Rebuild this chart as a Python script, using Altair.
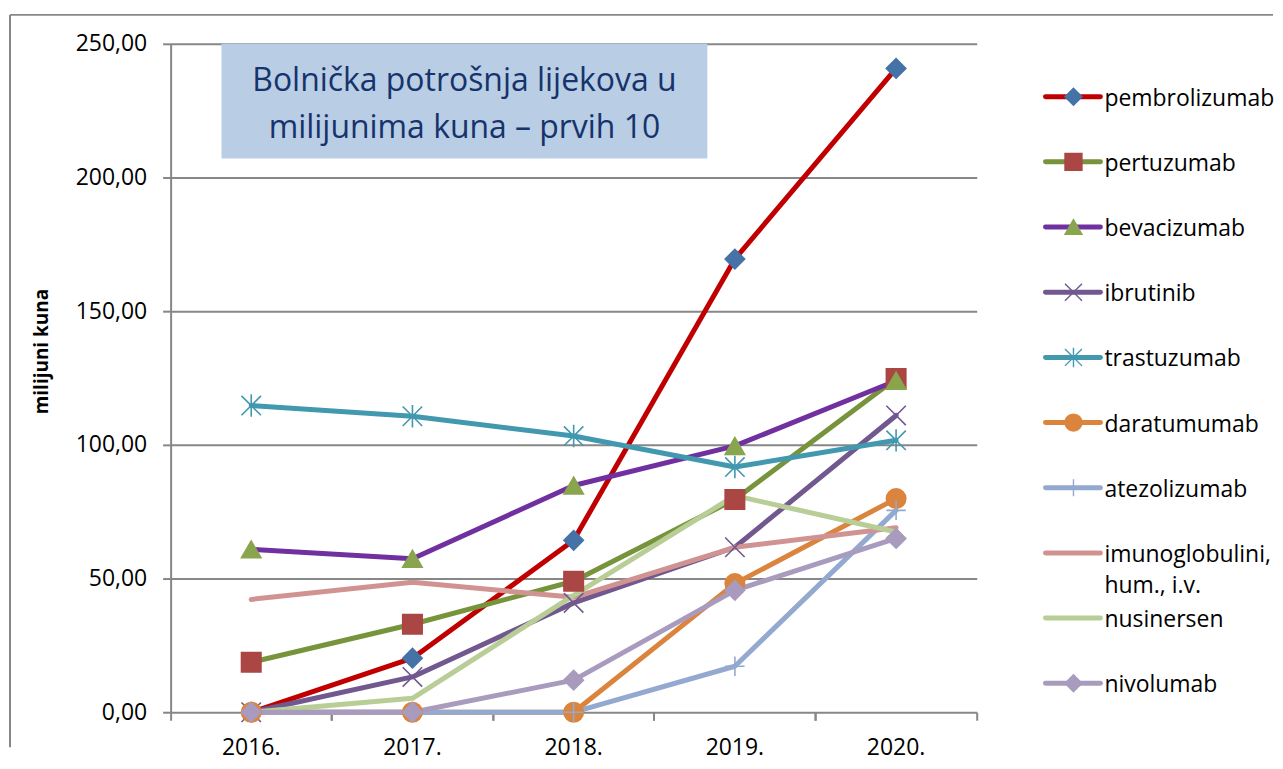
import altair as alt
import pandas as pd

# ---------------- data ----------------
years = ["2016.", "2017.", "2018.", "2019.", "2020."]

pembrolizumab = [0.0, 20.2, 64.3, 169.5, 240.8]
pertuzumab = [18.7, 32.9, 49.0, 79.6, 124.8]
bevacizumab = [60.9, 57.4, 84.8, 99.6, 124.0]
ibrutinib = [0.0, 13.2, 40.9, 61.7, 111.0]
trastuzumab = [114.7, 110.7, 103.3, 91.7, 101.7]
daratumumab = [0.0, 0.0, 0.0, 48.1, 79.9]
atezolizumab = [0.0, 0.0, 0.0, 17.2, 75.5]
imunoglobulini = [42.2, 48.6, 43.0, 61.7, 69.0]
nusinersen = [0.0, 5.2, 43.7, 81.0, 67.4]
nivolumab = [0.0, 0.0, 12.0, 45.6, 65.0]

series_names = ["pembrolizumab", "pertuzumab", "bevacizumab", "ibrutinib", "trastuzumab",
                "daratumumab", "atezolizumab", "imunoglobulini, hum., i.v.", "nusinersen", "nivolumab"]
series_values = [pembrolizumab, pertuzumab, bevacizumab, ibrutinib, trastuzumab,
                 daratumumab, atezolizumab, imunoglobulini, nusinersen, nivolumab]
legend_labels = ["pembrolizumab", "pertuzumab", "bevacizumab", "ibrutinib", "trastuzumab",
                 "daratumumab", "atezolizumab", "imunoglobulini,\nhum., i.v.", "nusinersen", "nivolumab"]

y_ticks = [0, 50, 100, 150, 200, 250]
title_lines = ["Bolnička potrošnja lijekova u", "milijunima kuna – prvih 10"]
y_title = "milijuni kuna"

# ---------------- styles ----------------
line_colors = ["#C00000", "#77933C", "#7030A0", "#71588F", "#4198AF",
               "#DB843D", "#93A9CF", "#D19392", "#B9CD96", "#A99BBD"]

X_PATH = "M-1,-1L1,1M-1,1L1,-1"
STAR_PATH = "M-1,-1L1,1M-1,1L1,-1M0,-1.15L0,1.15"
PLUS_PATH = "M-1,0L1,0M0,-1L0,1"

marker_series = ["pembrolizumab", "pertuzumab", "bevacizumab", "ibrutinib", "trastuzumab",
                 "daratumumab", "atezolizumab", "nivolumab"]
marker_shapes = ["diamond", "square", "triangle-up", X_PATH, STAR_PATH, "circle", PLUS_PATH, "diamond"]
marker_fill = ["#4572A7", "#AA4643", "#89A54E", "transparent", "transparent", "#DB843D", "transparent", "#A99BBD"]
marker_stroke = ["#4572A7", "#AA4643", "#89A54E", "#71588F", "#4198AF", "#DB843D", "#93A9CF", "#A99BBD"]

FONT = "Open Sans"
GRID = "#878787"

rows = []
for name, vals in zip(series_names, series_values):
    for yr, v in zip(years, vals):
        rows.append({"series": name, "year": yr, "value": v})
df = pd.DataFrame(rows)
legend_df = pd.DataFrame({"series": series_names, "label": legend_labels})
one = pd.DataFrame({"k": [0]})

W, H = 808, 670

x_scale = alt.Scale(type="band", domain=years, paddingInner=0, paddingOuter=0)
y_scale = alt.Scale(domain=[0, 250], nice=False)
color_scale = alt.Scale(domain=series_names, range=line_colors)
shape_scale = alt.Scale(domain=marker_series, range=marker_shapes)
fill_scale = alt.Scale(domain=marker_series, range=marker_fill)
stroke_scale = alt.Scale(domain=marker_series, range=marker_stroke)

y_axis = alt.Axis(values=y_ticks, grid=True, gridColor=GRID, gridWidth=2,
                  domainColor=GRID, domainWidth=2, tickColor=GRID, tickWidth=2, tickSize=8,
                  labelPadding=16, labelFont=FONT, labelFontSize=23, labelColor="#000000",
                  labelExpr="replace(format(datum.value, '.2f'), '.', ',')",
                  title=y_title, titleFont=FONT, titleFontSize=19, titleFontWeight="bold",
                  titleColor="#000000", titleAngle=270, titleAlign="center",
                  titleBaseline="middle", titleX=-129, titleY=308)

lines = alt.Chart(df).mark_line(strokeWidth=5, strokeJoin="round", strokeCap="round").encode(
    x=alt.X("year:O", scale=x_scale, bandPosition=0.5,
            axis=alt.Axis(orient="bottom", title=None, labelAngle=0, ticks=False, tickSize=0,
                          domain=False, grid=False, labelFont=FONT, labelFontSize=23,
                          labelColor="#000000", labelPadding=24)),
    y=alt.Y("value:Q", scale=y_scale, axis=y_axis),
    color=alt.Color("series:N", scale=color_scale, legend=None),
)

points = alt.Chart(df).transform_filter(
    alt.FieldOneOfPredicate(field="series", oneOf=marker_series)
).mark_point(filled=True, opacity=1, strokeWidth=1.6, size=380).encode(
    x=alt.X("year:O", scale=x_scale, bandPosition=0.5, axis=None),
    y=alt.Y("value:Q", scale=y_scale, axis=y_axis),
    shape=alt.Shape("series:N", scale=shape_scale, legend=None),
    fill=alt.Fill("series:N", scale=fill_scale, legend=None),
    stroke=alt.Stroke("series:N", scale=stroke_scale, legend=None),
)


def tick_layer(bp):
    return alt.Chart(pd.DataFrame({"year": years})).mark_point(opacity=0).encode(
        x=alt.X("year:O", scale=x_scale,
                axis=alt.Axis(orient="bottom", bandPosition=bp, labels=False, ticks=True,
                              tickSize=8, tickWidth=2, tickColor=GRID, domain=False,
                              grid=False, title=None)),
        y=alt.value(H / 2),
    )


inner = alt.layer(lines, points, tick_layer(0), tick_layer(1)).resolve_axis(x="independent")

# ---------------- legend (own point scale for rows) ----------------
leg_y = alt.Y("series:N", scale=alt.Scale(type="point", domain=series_names, range=[53, 641], padding=0),
              axis=None)

leg_lines = alt.Chart(legend_df).mark_rule(strokeWidth=5, strokeCap="round").encode(
    x=alt.value(877), x2=alt.value(932), y=leg_y,
    color=alt.Color("series:N", scale=color_scale, legend=None),
)
leg_points = alt.Chart(legend_df).transform_filter(
    alt.FieldOneOfPredicate(field="series", oneOf=marker_series)
).mark_point(filled=True, opacity=1, strokeWidth=1.4, size=289).encode(
    x=alt.value(905), y=leg_y,
    shape=alt.Shape("series:N", scale=shape_scale, legend=None),
    fill=alt.Fill("series:N", scale=fill_scale, legend=None),
    stroke=alt.Stroke("series:N", scale=stroke_scale, legend=None),
)
leg_text = alt.Chart(legend_df).mark_text(
    align="left", baseline="top", dy=-9, font=FONT, fontSize=23, color="#000000",
    lineBreak="\n", lineHeight=31
).encode(x=alt.value(936), y=leg_y, text="label:N")

# ---------------- title box and frame ----------------
box = alt.Chart(one).mark_rect(color="#B9CDE5").encode(
    x=alt.value(51), x2=alt.value(538), y=alt.value(0), y2=alt.value(115)
)
t1 = alt.Chart(one).mark_text(font=FONT, fontSize=32, color="#16336B", align="center",
                              baseline="alphabetic").encode(
    x=alt.value(294.5), y=alt.value(47), text=alt.value(title_lines[0]))
t2 = alt.Chart(one).mark_text(font=FONT, fontSize=32, color="#16336B", align="center",
                              baseline="alphabetic").encode(
    x=alt.value(294.5), y=alt.value(94), text=alt.value(title_lines[1]))

frame_top = alt.Chart(one).mark_rule(color=GRID, strokeWidth=2).encode(
    x=alt.value(-161), x2=alt.value(1105), y=alt.value(-29))
frame_left = alt.Chart(one).mark_rule(color=GRID, strokeWidth=2).encode(
    x=alt.value(-161), y=alt.value(-29), y2=alt.value(705))

chart = alt.layer(
    inner, leg_lines, leg_points, leg_text, box, t1, t2, frame_top, frame_left
).resolve_scale(y="independent").resolve_axis(x="independent").properties(
    width=W, height=H, padding={"left": 1, "top": 5, "right": 0, "bottom": 2}
).configure_view(stroke=None)

chart.save("out.html", embed_options={"renderer": "svg", "actions": False})
